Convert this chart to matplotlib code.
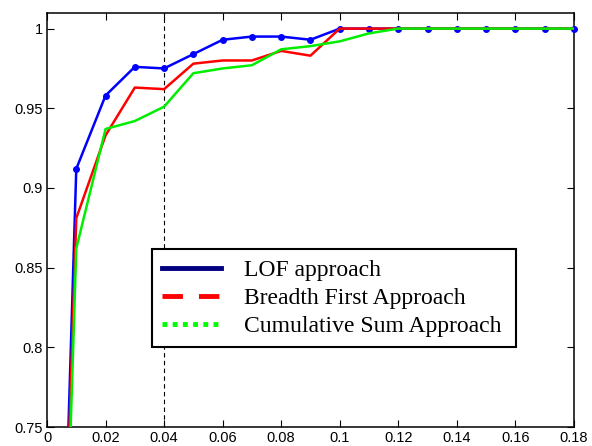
import matplotlib.pyplot as plt
from matplotlib.lines import Line2D

# fraction of outliers (x) vs detection accuracy (y)
x = [0.005, 0.01, 0.02, 0.03, 0.04, 0.05, 0.06, 0.07, 0.08, 0.09,
     0.10, 0.11, 0.12, 0.13, 0.14, 0.15, 0.16, 0.17, 0.18]
lof = [0.61, 0.912, 0.958, 0.976, 0.975, 0.984, 0.993, 0.995, 0.995, 0.993,
       1.0, 1.0, 1.0, 1.0, 1.0, 1.0, 1.0, 1.0, 1.0]
breadth = [0.60, 0.881, 0.933, 0.963, 0.962, 0.978, 0.980, 0.980, 0.986, 0.983,
           1.0, 1.0, 1.0, 1.0, 1.0, 1.0, 1.0, 1.0, 1.0]
cumsum = [0.57, 0.862, 0.937, 0.942, 0.951, 0.972, 0.975, 0.977, 0.987, 0.989,
          0.992, 0.997, 1.0, 1.0, 1.0, 1.0, 1.0, 1.0, 1.0]
labels = ['LOF approach', 'Breadth First Approach', 'Cumulative Sum Approach']
cut = 0.04

fig = plt.figure(figsize=(5.92, 4.46), dpi=100)
ax = fig.add_axes([0.0794, 0.0426, 0.890, 0.929])

# the curves themselves
ax.plot(x, lof, color='#0000ff', lw=1.8, zorder=3)
# markers only where in range; last one sits on the right edge, so don't clip
ax.plot(x[1:], lof[1:], ls='none', color='#0000ff', marker='o', ms=4,
        zorder=3, clip_on=False)
ax.plot(x, breadth, color='#ff0000', lw=1.8, zorder=4)
ax.plot(x, cumsum, color='#00ee00', lw=1.8, zorder=5)
ax.axvline(cut, color='black', lw=0.8, ls=(0, (4, 3)), zorder=2)

ax.set_xlim(0, 0.18)
ax.set_ylim(0.75, 1.01)
ax.set_xticks([0, 0.02, 0.04, 0.06, 0.08, 0.1, 0.12, 0.14, 0.16, 0.18])
ax.set_xticklabels(['0', '0.02', '0.04', '0.06', '0.08', '0.1', '0.12', '0.14', '0.16', '0.18'])
ax.set_yticks([0.75, 0.8, 0.85, 0.9, 0.95, 1.0])
ax.set_yticklabels(['0.75', '0.8', '0.85', '0.9', '0.95', '1'])
ax.tick_params(direction='in', top=True, right=True, length=5, width=0.8,
               labelsize=10.5, pad=3)
for lab in ax.get_xticklabels() + ax.get_yticklabels():
    lab.set_family('Liberation Sans')
for s in ax.spines.values():
    s.set_linewidth(1.1)

# legend handles don't match the plotted lines (as in the original)
handles = [Line2D([], [], color='#000080', lw=3.5),
           Line2D([], [], color='#ff0000', lw=3.5, ls=(0, (4.2, 3.3))),
           Line2D([], [], color='#00ff00', lw=3.5, ls=(0, (1, 1.1)))]
leg = ax.legend(handles, labels, loc='lower left',
                bbox_to_anchor=(0.2, 0.193, 0.69, 0.234), mode='expand',
                prop={'family': 'Liberation Serif', 'size': 17},
                handlelength=2.5, handletextpad=0.95, labelspacing=0.28,
                borderpad=0.42, borderaxespad=0, fancybox=False, framealpha=1,
                edgecolor='black')
leg.get_frame().set_linewidth(1.5)
leg.set_zorder(10)

fig.savefig('out.png', dpi=100)
